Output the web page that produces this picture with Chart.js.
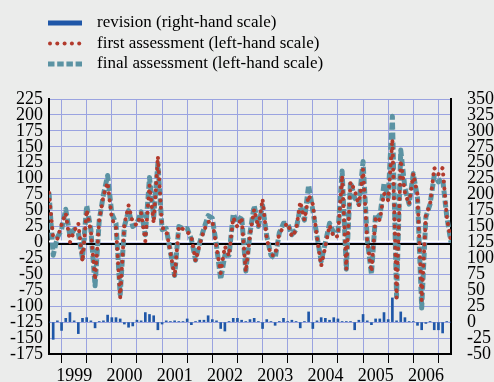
<!DOCTYPE html>
<html>
<head>
<meta charset="utf-8">
<script src="https://cdn.jsdelivr.net/npm/chart.js@4.4.1/dist/chart.umd.min.js"></script>
<style>
    html, body { margin: 0; padding: 0; background: #ebeceb; }
    #wrap { width: 494px; height: 382px; }
</style>
</head>
<body>
<div id="wrap"><canvas id="myChart" width="494" height="382"></canvas></div>
<script>
// Monthly values, Jan 1999 .. Jan 2007
const years = ["1999", "2000", "2001", "2002", "2003", "2004", "2005", "2006"];

const finalAssessment = [
    78, -20, 8, 20, 52, 10, 20, 15, -25, 58, 20, -68,
    35, 75, 105, 45, 30, -82, 25, 50, 25, 30, 48, 12,
    102, 40, 124, 20, 22, -15, -52, 25, 22, 22, 5, -28,
    0, 22, 42, 38, -5, -58, -20, -20, 45, 30, 42, -45,
    15, 58, 25, 58, 10, -20, -25, 15, 30, 30, 12, 20,
    55, 35, 90, 50, 10, -30, 0, 30, 15, 15, 112, -42,
    95, 70, 60, 127, 5, -50, 45, 40, 92, 70, 198, -85,
    145, 85, 60, 108, 70, -103, 40, 60, 105, 95, 100, 40,
    0
];

const firstAssessment = [
    78, 7, 6, 28, 46, 0, 18, 30, -30, 51, 18, -59,
    35, 73, 94, 38, 23, -87, 28, 58, 31, 27, 46, 2,
    90, 30, 135, 23, 20, -16, -54, 25, 21, 17, 9, -29,
    -3, 19, 32, 34, -7, -48, -6, -21, 39, 24, 39, -46,
    11, 52, 24, 68, 6, -20, -20, 14, 24, 30, 9, 19,
    64, 35, 74, 60, 8, -37, -6, 27, 8, 10, 105, -42,
    95, 82, 57, 115, 3, -46, 40, 35, 77, 66, 162, -87,
    129, 78, 60, 108, 75, -91, 42, 60, 117, 107, 117, 40,
    0
];

const revision = [
    0, -27, 2, -13, 6, 15, 2, -18, 6, 7, 2, -9,
    1, 2, 11, 7, 7, 5, -3, -8, -6, 3, 2, 15,
    12, 10, -12, -3, 2, 1, 2, 1, 1, 5, -4, 1,
    3, 3, 10, 4, 2, -10, -14, 1, 6, 6, 3, 1,
    4, 6, 1, -10, 4, 1, -5, 1, 6, 1, 3, 1,
    -9, 1, 16, -10, 2, 7, 6, 3, 7, 5, 1, 1,
    1, -12, 3, 12, 2, -4, 5, 5, 15, 4, 38, 2,
    16, 7, 1, 1, -5, -12, -2, 1, -12, -12, -17, 1,
    0
];

const leftTicks = { min: -175, max: 225, step: 25 };
const rightTicks = { min: -50, max: 350, step: 25 };

const months = finalAssessment.map((_, i) => i);
const toPoints = (arr) => arr.map((v, i) => ({ x: months[i], y: v }));

const gridColor = "#9aa3e0";
const blue = "#1f57a8";
const red = "#b23a2c";
const teal = "#5b93a3";

Chart.defaults.font.family = "'Liberation Serif', 'Times New Roman', serif";
Chart.defaults.font.size = 18;
Chart.defaults.color = "#000";

// zero line: white with black line just under it
const zeroLine = {
    id: "zeroLine",
    beforeDatasetsDraw(chart) {
        const { ctx, chartArea, scales } = chart;
        const y0 = scales.y.getPixelForValue(0);
        ctx.save();
        ctx.lineWidth = 2;
        ctx.strokeStyle = "#ffffff";
        ctx.beginPath();
        ctx.moveTo(chartArea.left, y0 - 1);
        ctx.lineTo(chartArea.right, y0 - 1);
        ctx.stroke();
        ctx.strokeStyle = "#000000";
        ctx.beginPath();
        ctx.moveTo(chartArea.left, y0 + 1.5);
        ctx.lineTo(chartArea.right, y0 + 1.5);
        ctx.stroke();
        ctx.restore();
    },
};

// legend in the top-left corner
const legendBox = {
    id: "legendBox",
    afterDraw(chart) {
        const ctx = chart.ctx;
        const labels = chart.data.datasets.map((d) => d.label);
        ctx.save();
        ctx.font = "17px 'Liberation Serif', serif";
        ctx.fillStyle = "#000";
        ctx.textBaseline = "middle";
        ctx.textAlign = "left";
        const rows = [23, 43.5, 64];
        labels.forEach((t, i) => ctx.fillText(t, 97, rows[i]));

        ctx.fillStyle = blue;
        ctx.fillRect(48, 20.5, 34, 5);

        ctx.fillStyle = red;
        for (let i = 0; i < 5; i++) {
            ctx.beginPath();
            ctx.arc(50 + i * 7.3, rows[1], 2, 0, Math.PI * 2);
            ctx.fill();
        }

        ctx.strokeStyle = teal;
        ctx.lineWidth = 5;
        ctx.setLineDash([6.5, 2.7]);
        ctx.beginPath();
        ctx.moveTo(48, rows[2]);
        ctx.lineTo(82, rows[2]);
        ctx.stroke();
        ctx.restore();
    },
};

const ctx = document.getElementById("myChart");

new Chart(ctx, {
    data: {
        datasets: [
            {
                type: "bar",
                label: "revision (right-hand scale)",
                data: toPoints(revision),
                yAxisID: "y2",
                backgroundColor: blue,
                barThickness: 2,
            },
            {
                type: "line",
                label: "first assessment (left-hand scale)",
                data: toPoints(firstAssessment),
                yAxisID: "y",
                borderColor: red,
                borderWidth: 4,
                borderDash: [0.1, 7],
                borderCapStyle: "round",
                borderJoinStyle: "round",
                pointRadius: 0,
                tension: 0,
            },
            {
                type: "line",
                label: "final assessment (left-hand scale)",
                data: toPoints(finalAssessment),
                yAxisID: "y",
                borderColor: teal,
                borderWidth: 5,
                borderDash: [7, 3],
                borderJoinStyle: "round",
                pointRadius: 0,
                tension: 0,
            },
        ],
    },
    options: {
        responsive: false,
        animation: false,
        devicePixelRatio: 1,
        layout: { padding: { top: 99, left: 0, right: 0, bottom: 0 } },
        plugins: {
            legend: { display: false },
            tooltip: { enabled: false },
        },
        scales: {
            x: {
                type: "linear",
                min: 0,
                max: 96,
                offset: false,
                afterBuildTicks: (s) => {
                    const t = [];
                    for (let v = 0; v <= 96; v += 6) t.push({ value: v });
                    s.ticks = t;
                },
                afterFit: (s) => { s.height = 28; },
                ticks: {
                    autoSkip: false,
                    maxRotation: 0,
                    padding: 2,
                    callback: (v) => ((v - 6) % 12 === 0 ? years[(v - 6) / 12] : ""),
                },
                grid: { color: gridColor, tickColor: "#000", tickLength: 9, lineWidth: 1 },
                border: { color: "#000", width: 2 },
            },
            y: {
                position: "left",
                min: leftTicks.min,
                max: leftTicks.max,
                afterFit: (s) => { s.width = 49; },
                ticks: { stepSize: leftTicks.step, padding: 6, autoSkip: false },
                grid: { color: gridColor, drawTicks: false, lineWidth: 1 },
                border: { color: "#000", width: 2 },
            },
            y2: {
                position: "right",
                min: rightTicks.min,
                max: rightTicks.max,
                afterFit: (s) => { s.width = 43; },
                ticks: { stepSize: rightTicks.step, padding: 16, autoSkip: false },
                grid: { drawOnChartArea: false, drawTicks: false },
                border: { color: "#000", width: 2 },
            },
        },
    },
    plugins: [zeroLine, legendBox],
});
</script>
</body>
</html>
